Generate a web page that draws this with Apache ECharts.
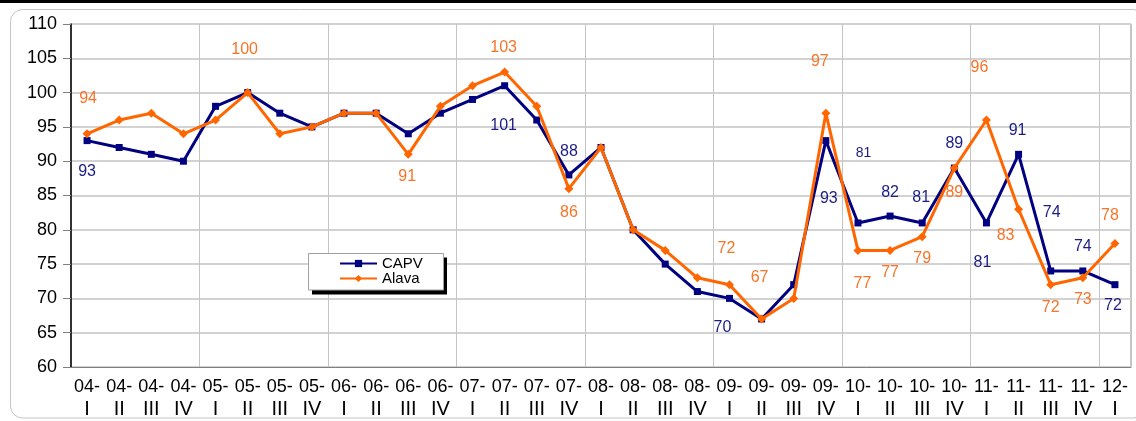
<!DOCTYPE html>
<html>
<head>
<meta charset="utf-8">
<script src="https://cdn.jsdelivr.net/npm/echarts@6/dist/echarts.min.js"></script>
<style>
html,body{margin:0;padding:0;background:#fff;}
#c{width:1136px;height:421px;}
</style>
</head>
<body>
<div id="c"></div>
<script>
// ---- data ----
var years = ['04','04','04','04','05','05','05','05','06','06','06','06','07','07','07','07','08','08','08','08','09','09','09','09','10','10','10','10','11','11','11','11','12'];
var quarters = ['I','II','III','IV','I','II','III','IV','I','II','III','IV','I','II','III','IV','I','II','III','IV','I','II','III','IV','I','II','III','IV','I','II','III','IV','I'];
var capv  = [93,92,91,90,98,100,97,95,97,97,94,97,99,101,96,88,92,80,75,71,70,67,72,93,81,82,81,89,81,91,74,74,72];
var alava = [94,96,97,94,96,100,94,95,97,97,91,98,101,103,98,86,92,80,77,73,72,67,70,97,77,77,79,89,96,83,72,73,78];
var yTicks = {min:60, max:110, interval:5};

// ---- label placement (index: [dx, dy, fontSize]) ----
var capvLabelPos = {
  0:[0,31,16], 13:[-1,40,16], 15:[0,-23.5,16], 20:[-7,29,16], 23:[3,58,16],
  24:[5.5,-70,14], 25:[0,-23.5,16], 26:[-1,-25,16], 27:[0,-24.5,16], 28:[-4,40,16],
  29:[-1,-24,16], 30:[1,-58,16], 31:[0,-24.5,16], 32:[-2,21,16]
};
var alavaLabelPos = {
  0:[1,-35,16], 5:[-3,-43,16], 10:[-1,22,16], 13:[-1,-24,16], 15:[0,23.5,16],
  20:[-3,-36.5,16], 21:[-2,-41,16], 23:[-6,-52,16], 24:[4.5,33.5,16], 25:[0,22.5,16],
  26:[0,22.3,16], 27:[0,24.3,16], 28:[-7,-52,16], 29:[-13,26.5,16], 30:[0,23.3,16],
  31:[0,22,16], 32:[-5,-28,16]
};

var FONT = '"Liberation Sans", Arial, sans-serif';
function buildData(vals, pos, color){
  return vals.map(function(v,i){
    var p = pos[i];
    if(!p) return v;
    return {value:v, label:{show:true, position:'inside', offset:[p[0],p[1]],
      color:color, fontSize:p[2], fontFamily:FONT}};
  });
}

var categories = years.map(function(y,i){ return y + '-\n' + quarters[i]; });

var chart = echarts.init(document.getElementById('c'));
chart.setOption({
  animation:false,
  backgroundColor:'#fff',
  textStyle:{fontFamily:FONT},
  grid:{left:71, right:5, top:24, bottom:54, show:true, borderColor:'#8a8a8a', borderWidth:1, backgroundColor:'transparent'},
  legend:{
    orient:'vertical', left:339, top:256, itemWidth:37, itemHeight:9, itemGap:0,
    padding:0, z:10,
    textStyle:{fontSize:15, lineHeight:15, color:'#000', fontFamily:FONT},
    data:['CAPV','Alava']
  },
  graphic:[
    {type:'rect', z:-10, silent:true, shape:{x:0,y:0,width:1136,height:3}, style:{fill:'#000'}},
    {type:'rect', z:-10, silent:true, shape:{x:10.5,y:9.5,width:1135,height:408.5,r:12}, style:{fill:'none', stroke:'#c4c4c4', lineWidth:1}},
    {type:'rect', z:5, silent:true, shape:{x:312,y:257.5,width:135,height:37}, style:{fill:'#000'}},
    {type:'rect', z:6, silent:true, shape:{x:308.5,y:253.5,width:135,height:36.5}, style:{fill:'#fff', stroke:'#a0a0a0', lineWidth:1}}
  ],
  xAxis:{
    type:'category', data:categories, boundaryGap:true,
    axisLine:{lineStyle:{color:'#808080', width:1}},
    axisTick:{show:false},
    splitLine:{show:true, interval:3, lineStyle:{color:'#c4c4c4', width:1}},
    axisLabel:{
      interval:0, margin:9, color:'#000',
      formatter:function(val){ var s = val.split('\n'); return '{a|'+s[0]+'}\n{b|'+s[1]+'}'; },
      rich:{
        a:{fontSize:18, lineHeight:22, color:'#000', fontFamily:FONT},
        b:{fontSize:20, lineHeight:22, color:'#000', fontFamily:FONT}
      }
    }
  },
  yAxis:{
    type:'value', min:yTicks.min, max:yTicks.max, interval:yTicks.interval,
    axisLine:{show:true, lineStyle:{color:'#000', width:1.5}},
    axisTick:{show:true, length:8, lineStyle:{color:'#808080'}},
    axisLabel:{margin:14, fontSize:18, color:'#000', fontFamily:FONT},
    splitLine:{show:true, lineStyle:{color:'#d2d2d2', width:2}}
  },
  series:[
    {name:'CAPV', type:'line', data:buildData(capv, capvLabelPos, '#1c1c84'),
     symbol:'rect', symbolSize:7, showAllSymbol:true,
     lineStyle:{color:'#000080', width:3}, itemStyle:{color:'#000080'}, z:3},
    {name:'Alava', type:'line', data:buildData(alava, alavaLabelPos, '#f87428'),
     symbol:'diamond', symbolSize:9, showAllSymbol:true,
     lineStyle:{color:'#ff6600', width:3}, itemStyle:{color:'#ff6600'}, z:4}
  ]
});
</script>
</body>
</html>
